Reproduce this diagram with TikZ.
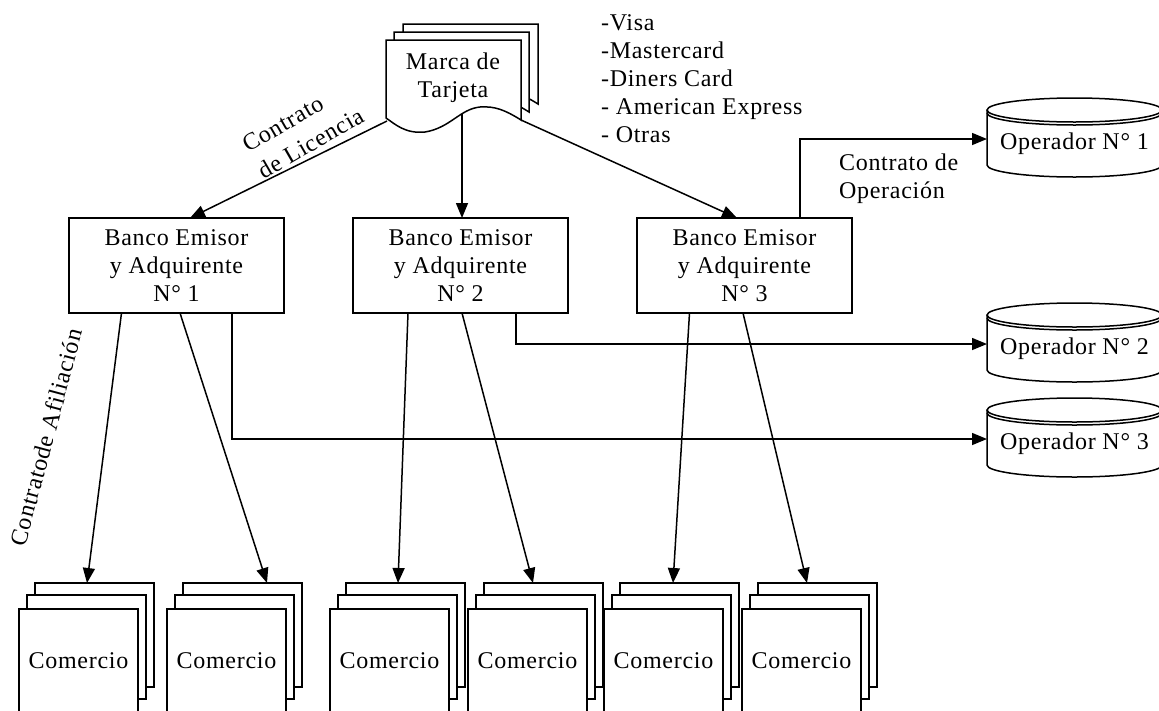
\documentclass[tikz,border=0pt]{standalone}
\usepackage{fontspec}
\setmainfont[LetterSpace=3]{Liberation Serif}
\usetikzlibrary{arrows.meta,calc}
\begin{document}
\begin{tikzpicture}[x=1pt,y=-1pt, line width=1.5pt, font=\fontsize{24}{28}\selectfont,
  conn/.style={-{Triangle[length=15pt,width=12pt]}},
  bankbox/.style={draw, fill=white, minimum width=215pt, minimum height=95pt, inner sep=0pt, outer sep=0pt, align=center},
  sheet/.style={draw, fill=white, minimum width=119pt, minimum height=104pt, inner sep=0pt, outer sep=0pt, anchor=north west},
  optext/.style={inner sep=0pt, outer sep=0pt, minimum width=175pt, minimum height=50pt},
  docsheet/.style={draw, fill=white}]
\useasboundingbox (0,0) rectangle (1159,710);

% Marca de Tarjeta (stacked document shape)
\foreach \dx/\dy in {17/-16, 8/-8, 0/0} {
  \draw[docsheet, shift={(\dx,\dy)}] (386,118) -- (386,40) -- (521,40) -- (521,120)
    .. controls (505,110) and (495,106) .. (480,107)
    .. controls (460,109) and (450,128) .. (425,132)
    .. controls (405,134) and (395,124) .. (386,118) -- cycle;
}
\node[align=center] (marca) at (453,78) {Marca de\\Tarjeta};
\coordinate (mL) at (387,121);
\coordinate (mM) at (462,114);
\coordinate (mR) at (521,120);

% list of brands
\node[align=left, anchor=west] (list) at (597,79) {-Visa\\-Mastercard\\-Diners Card\\- American Express\\- Otras};

% banks
\node[bankbox] (b1) at (176.5,265.5) {Banco Emisor\\y Adquirente\\N° 1};
\node[bankbox] (b2) at (460.5,265.5) {Banco Emisor\\y Adquirente\\N° 2};
\node[bankbox] (b3) at (744.5,265.5) {Banco Emisor\\y Adquirente\\N° 3};

% operators (cylinders)
\foreach \t/\n in {98/1, 303/2, 398/3} {
  \draw[fill=white] (987,\t+12) -- (987,\t+67) arc[start angle=180,end angle=360,x radius=87.5pt,y radius=12pt] -- (1162,\t+12);
  \draw[fill=white] (1074.5,\t+12) ellipse[x radius=87.5pt, y radius=12pt];
  \draw (987,\t+15) arc[start angle=180,end angle=360,x radius=87.5pt,y radius=12pt];
  \node[optext] (op\n) at (1074.5,\t+46) {Operador N° \n};
}

% comercio stacks
\foreach \i/\xa in {1/19,2/167,3/330,4/468,5/604,6/742} {
  \node[sheet] (cb\i) at (\xa+16,583) {};
  \node[sheet] (cm\i) at (\xa+8,595) {};
  \node[sheet] (c\i) at (\xa,609) {Comercio};
}

% labels
\node[rotate=30, align=left, font=\fontsize{24}{31}\selectfont] (lic) at (303,130) {Contrato\\de Licencia};
\node[align=left, anchor=west] (cop) at (835,179) {Contrato de\\Operación};
\node[rotate=75] (afil) at (46,437) {Contratode Afiliación};

% connectors from brand to banks
\draw[conn] (mL) -- ([xshift=13.5pt]b1.north);
\draw[conn] (mM) -- ([xshift=1.5pt]b2.north);
\draw[conn] (mR) -- ([xshift=-7.5pt]b3.north);

% banks to operators
\draw[conn] ([xshift=55.5pt]b3.north) |- ([yshift=5pt]op1.west);
\draw[conn] ([xshift=55.5pt]b2.south) |- ([yshift=5pt]op2.west);
\draw[conn] ([xshift=55.5pt]b1.south) |- ([yshift=5pt]op3.west);

% banks to comercios
\draw[conn] ([xshift=-55pt]b1.south) -- ([xshift=-7.5pt]cb1.north);
\draw[conn] ([xshift=3.5pt]b1.south) -- ([xshift=24.5pt]cb2.north);
\draw[conn] ([xshift=-52.5pt]b2.south) -- ([xshift=-7.5pt]cb3.north);
\draw[conn] ([xshift=1.5pt]b2.south) -- ([xshift=-10.5pt]cb4.north);
\draw[conn] ([xshift=-55pt]b3.south) -- ([xshift=-6.5pt]cb5.north);
\draw[conn] ([xshift=-1.5pt]b3.south) -- ([xshift=-10.5pt]cb6.north);
\end{tikzpicture}
\end{document}
